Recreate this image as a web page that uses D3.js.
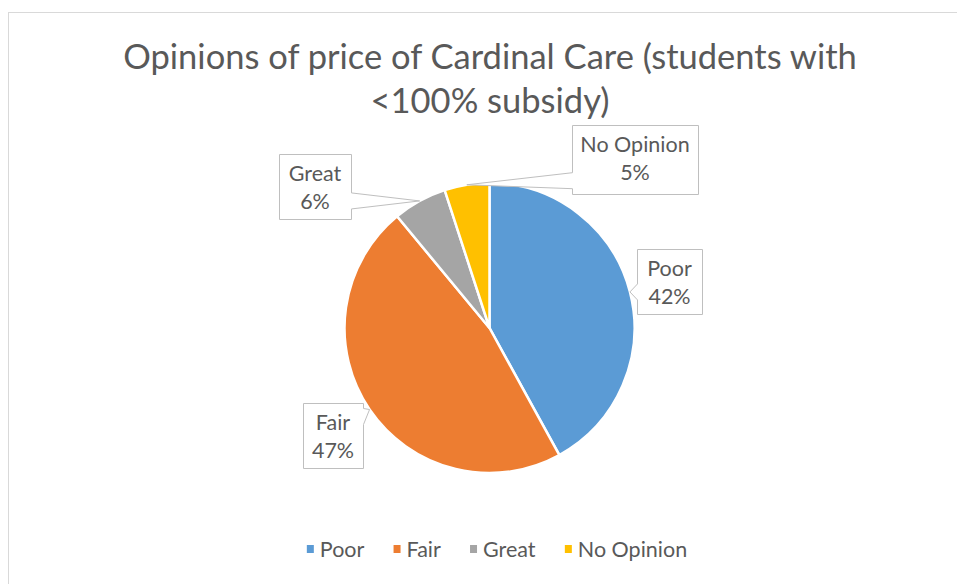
<!DOCTYPE html>
<meta charset="utf-8">
<script src="https://d3js.org/d3.v7.min.js"></script>
<style>
  body { margin: 0; background: #fff; }
  text { font-family: Lato, "Open Sans", sans-serif; fill: #595959; }
</style>
<div id="pie"></div>
<script>

// data
var categories = ["Poor", "Fair", "Great", "No Opinion"];
var percents   = [42, 47, 6, 5];
var colors     = ["#5B9BD5", "#ED7D31", "#A5A5A5", "#FFC000"];
var titleLines = ["Opinions of price of Cardinal Care (students with", "<100% subsidy)"];

// label box layout (x, y, w, h) per category
var labelBoxes = [
  {x: 637, y: 249, w: 65,  h: 65},
  {x: 303, y: 403, w: 60,  h: 65},
  {x: 279, y: 154, w: 72,  h: 65},
  {x: 572, y: 125, w: 126, h: 69}
];

var width = 957, height = 584;
var cx = 489.5, cy = 328, radius = 145;

var svg = d3.select("#pie").append("svg")
    .attr("width", width)
    .attr("height", height);

// chart border
svg.append("rect")
    .attr("x", 8.5).attr("y", 12.5)
    .attr("width", 1000).attr("height", 1000)
    .style("fill", "none")
    .style("stroke", "#d9d9d9");

// title
svg.selectAll(".title")
    .data(titleLines)
  .enter().append("text")
    .attr("class", "title")
    .attr("x", 490)
    .attr("y", function(d, i) { return 69 + i * 44; })
    .attr("text-anchor", "middle")
    .style("font-size", "34.5px")
    .text(function(d) { return d; });

var data = categories.map(function(c, i) { return {name: c, value: percents[i], color: colors[i]}; });

var pie = d3.pie().sort(null).value(function(d) { return d.value; });
var arc = d3.arc().innerRadius(0).outerRadius(radius);

var g = svg.append("g").attr("transform", "translate(" + cx + "," + cy + ")");

var arcs = pie(data);

g.selectAll("path")
    .data(arcs)
  .enter().append("path")
    .attr("d", arc)
    .style("fill", function(d) { return d.data.color; })
    .style("stroke", "#fff")
    .style("stroke-width", 2.5);

// callout labels
function calloutPath(b, tip) {
  var x0 = b.x, y0 = b.y, x1 = b.x + b.w, y1 = b.y + b.h, hw = 8;
  var pts;
  if (tip[0] > x1) {
    var m = Math.max(y0 + 0.2 * b.h, Math.min(y1 - 0.2 * b.h, tip[1]));
    pts = [[x0, y0], [x1, y0], [x1, m - hw], tip, [x1, m + hw], [x1, y1], [x0, y1]];
  } else if (tip[0] < x0) {
    var m2 = Math.max(y0 + 0.2 * b.h, Math.min(y1 - 0.2 * b.h, tip[1]));
    pts = [[x0, y0], [x1, y0], [x1, y1], [x0, y1], [x0, m2 + hw], tip, [x0, m2 - hw]];
  } else {
    pts = [[x0, y0], [x1, y0], [x1, y1], [x0, y1]];
  }
  return "M" + pts.map(function(p) { return p[0] + "," + p[1]; }).join("L") + "Z";
}

var labels = svg.selectAll(".lbl")
    .data(arcs)
  .enter().append("g")
    .attr("class", "lbl");

labels.append("path")
    .attr("d", function(d, i) {
      var a = (d.startAngle + d.endAngle) / 2;
      var tip = [cx + radius * Math.sin(a), cy - radius * Math.cos(a)];
      var b = labelBoxes[i];
      return calloutPath({x: b.x + 0.5, y: b.y + 0.5, w: b.w, h: b.h}, tip);
    })
    .style("fill", "#fff")
    .style("stroke", "#bfbfbf")
    .style("stroke-width", 1);

labels.append("text")
    .attr("x", function(d, i) { return labelBoxes[i].x + labelBoxes[i].w / 2; })
    .attr("y", function(d, i) { return labelBoxes[i].y + 27; })
    .attr("text-anchor", "middle")
    .style("font-size", "21.5px")
    .text(function(d) { return d.data.name; });

labels.append("text")
    .attr("x", function(d, i) { return labelBoxes[i].x + labelBoxes[i].w / 2; })
    .attr("y", function(d, i) { return labelBoxes[i].y + 55; })
    .attr("text-anchor", "middle")
    .style("font-size", "21.5px")
    .text(function(d) { return d.data.value + "%"; });

// legend
var legend = svg.append("g").attr("class", "legend");
var items = legend.selectAll("g")
    .data(data)
  .enter().append("g");

items.append("rect")
    .attr("width", 7).attr("height", 8)
    .attr("y", -12)
    .style("fill", function(d) { return d.color; });

items.append("text")
    .attr("x", 13)
    .style("font-size", "21.5px")
    .text(function(d) { return d.name; });

var gap = 29;
var xpos = 0;
items.each(function() {
  var w = this.getBBox().width;
  d3.select(this).attr("transform", "translate(" + xpos + ",0)");
  xpos += w + gap;
});
var total = xpos - gap;
legend.attr("transform", "translate(" + (497 - total / 2) + ",557)");

</script>
